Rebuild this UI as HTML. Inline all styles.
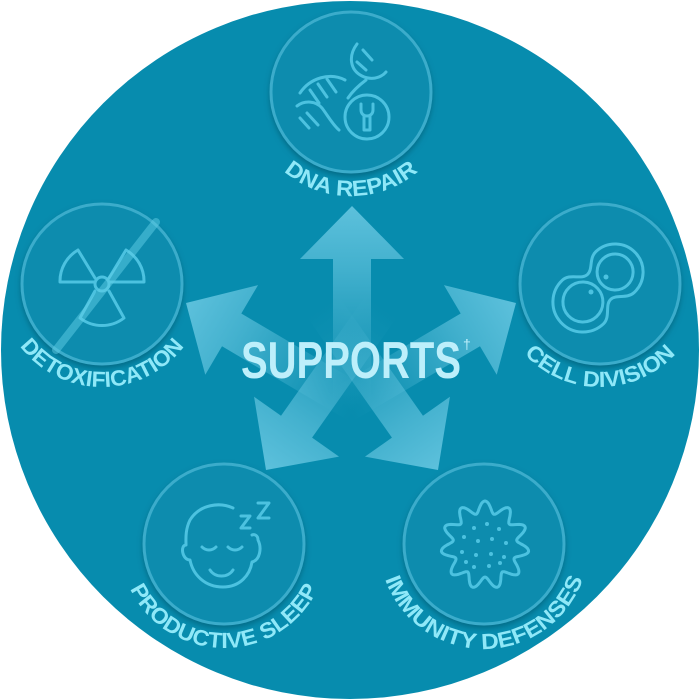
<!DOCTYPE html>
<html><head><meta charset="utf-8"><style>
html,body{margin:0;padding:0;background:#fff;width:700px;height:700px;overflow:hidden}
svg{display:block}
.ring{fill:#098cae;stroke:#3aaccb;stroke-width:3}
.ic{fill:none;stroke:#4cc2e0;stroke-width:3;stroke-linecap:round;stroke-linejoin:round}
.lbl{font-family:"Liberation Sans",sans-serif;font-size:22px;font-weight:bold;fill:#8fe8f8}
</style></head><body>
<svg width="700" height="700" viewBox="0 0 700 700" xmlns="http://www.w3.org/2000/svg">
<defs>
<linearGradient id="ag" x1="0" y1="0" x2="0" y2="1">
<stop offset="0" stop-color="#6ccae4" stop-opacity="0.85"/>
<stop offset="0.3" stop-color="#6ccae4" stop-opacity="0.6"/>
<stop offset="0.85" stop-color="#6ccae4" stop-opacity="0.05"/>
<stop offset="1" stop-color="#6ccae4" stop-opacity="0"/>
</linearGradient>
<filter id="sh" x="-20%" y="-20%" width="140%" height="140%">
<feDropShadow dx="0" dy="3" stdDeviation="3" flood-color="#04566c" flood-opacity="0.6"/>
</filter>
<path id="p1" d="M247 92 A104 104 0 0 0 455 92"/>
<path id="p2" d="M-1 284 A103 103 0 0 0 205 284"/>
<path id="p3" d="M497 284 A103 103 0 0 0 703 284"/>
<path id="p4" d="M120 544 A104 104 0 0 0 328 544"/>
<path id="p5" d="M379 544 A105 105 0 0 0 589 544"/>
</defs>
<circle cx="350" cy="350" r="349" fill="#078cae"/>

<g fill="url(#ag)">
<polygon points="-19,0 -19,-147 -52,-147 0,-200 52,-147 19,-147 19,0" transform="translate(352,206) rotate(0) translate(0,200)"/>
<polygon points="-19,0 -19,-147 -52,-147 0,-200 52,-147 19,-147 19,0" transform="translate(186,303) rotate(-59.5) translate(0,200)"/>
<polygon points="-19,0 -19,-147 -52,-147 0,-200 52,-147 19,-147 19,0" transform="translate(516,303) rotate(59.5) translate(0,200)"/>
<polygon points="-19,0 -19,-147 -52,-147 0,-200 52,-147 19,-147 19,0" transform="translate(266,470) rotate(-144.8) translate(0,200)"/>
<polygon points="-19,0 -19,-147 -52,-147 0,-200 52,-147 19,-147 19,0" transform="translate(438,470) rotate(144.8) translate(0,200)"/>
</g>

<text x="241" y="378" font-family="Liberation Sans,sans-serif" font-weight="bold" font-size="52" fill="#bdeffb" textLength="220" lengthAdjust="spacingAndGlyphs">SUPPORTS</text>
<text x="463" y="349" font-family="Liberation Sans,sans-serif" font-size="14" fill="#bdeffb">†</text>

<g filter="url(#sh)">
<circle class="ring" cx="351" cy="92" r="80"/>
<circle class="ring" cx="102" cy="284" r="80"/>
<circle class="ring" cx="600" cy="284" r="80"/>
<circle class="ring" cx="224" cy="544" r="80"/>
<circle class="ring" cx="484" cy="544" r="80"/>
</g>

<!-- DNA icon -->
<g class="ic">
<path d="M357 44 C348 56 350 70 362 76 C370 80 380 79 386 72"/>
<path d="M363 50 L372 60"/><path d="M357 62 L366 70"/>
<path d="M366 80 C358 86 352 92 348 98"/>
<path d="M297 106 C305 100 316 101 322 108 C328 116 333 125 339 130"/>
<path d="M300 93 C310 78 330 72 345 80"/>
<path d="M327 79 L336 92"/><path d="M318 84 L327 97"/><path d="M310 90 L319 103"/>
<path d="M307 113 L318 125"/><path d="M300 118 L309 128"/>
<circle cx="367" cy="117" r="22"/>
<path d="M361 104 L361 110 C361 114 364 116 367 116 C370 116 373 114 373 110 L373 104 M364 116 L364 130 L370 130 L370 116"/>
</g>

<!-- radiation icon -->
<g class="ic">
<circle cx="102" cy="284" r="7"/>
<path d="M95 278 L78 250 A36 36 0 0 0 60 282 L94 282"/>
<path d="M109 278 L126 250 A36 36 0 0 1 144 282 L110 282"/>
<path d="M95 291 L80 318 A36 36 0 0 0 124 318 L109 291"/>
</g>
<line x1="156" y1="222" x2="56" y2="350" stroke="#5fcde6" stroke-width="8" stroke-opacity="0.5" stroke-linecap="round"/>

<!-- cell icon -->
<g class="ic" transform="translate(599,287) rotate(47)">
<path d="M-17 0 C-17 -8 -28 -12 -28 -22 A28 28 0 1 1 28 -22 C28 -12 17 -8 17 0 C17 8 30 12 30 22 A30 30 0 1 1 -30 22 C-30 12 -17 8 -17 0 Z"/>
<circle cx="0" cy="-22" r="18"/>
<circle cx="0" cy="22" r="20"/>
</g>
<circle cx="606" cy="277" r="2.5" fill="#4cc2e0"/>
<circle cx="591" cy="292" r="2.5" fill="#4cc2e0"/>

<!-- face icon -->
<g class="ic">
<path d="M233 508 C220 502 200 504 190 520 C185 530 186 540 186 545 C180 545 182 560 190 560 C193 575 205 587 223 587 C240 587 250 575 252 562 C260 560 262 548 258 540 C258 535 254 534 252 535"/>
<path d="M202 547 C206 551 212 551 216 547"/><path d="M228 547 C232 551 238 551 242 547"/>
<path d="M210 570 C215 578 228 578 233 570"/>
<path d="M241 516 L250 516 L241 528 L250 528"/>
<path d="M258 503 L269 503 L258 518 L269 518"/>
</g>

<g class="ic"><path id="vir" d=""/></g>
<g id="dots" fill="#4cc2e0"></g>

<text class="lbl"><textPath href="#p1" startOffset="50%" text-anchor="middle" textLength="146" lengthAdjust="spacingAndGlyphs">DNA REPAIR</textPath></text>
<text class="lbl"><textPath href="#p2" startOffset="50%" text-anchor="middle" textLength="190" lengthAdjust="spacingAndGlyphs">DETOXIFICATION</textPath></text>
<text class="lbl"><textPath href="#p3" startOffset="50%" text-anchor="middle" textLength="170" lengthAdjust="spacingAndGlyphs">CELL DIVISION</textPath></text>
<text class="lbl"><textPath href="#p4" startOffset="50%" text-anchor="middle" textLength="234" lengthAdjust="spacingAndGlyphs">PRODUCTIVE SLEEP</textPath></text>
<text class="lbl"><textPath href="#p5" startOffset="50%" text-anchor="middle" textLength="258" lengthAdjust="spacingAndGlyphs">IMMUNITY DEFENSES</textPath></text>
</svg>
<script>
(function(){
var cx=485,cy=545,d="";
for(var i=0;i<=220;i++){var t=i/220*Math.PI*2;var r=38+6*Math.cos(11*t);d+=(i?"L":"M")+(cx+r*Math.sin(t)).toFixed(1)+" "+(cy-r*Math.cos(t)).toFixed(1);}
document.getElementById("vir").setAttribute("d",d+"Z");
var pts=[[474,528],[487,524],[499,529],[464,537],[478,541],[492,539],[506,543],[462,552],[476,555],[491,554],[504,557],[474,567],[489,566],[500,563],[466,562]];
var g=document.getElementById("dots"),s="";
pts.forEach(function(p){s+='<circle cx="'+p[0]+'" cy="'+p[1]+'" r="2"/>';});
g.innerHTML=s;
})();
</script>
</body></html>
